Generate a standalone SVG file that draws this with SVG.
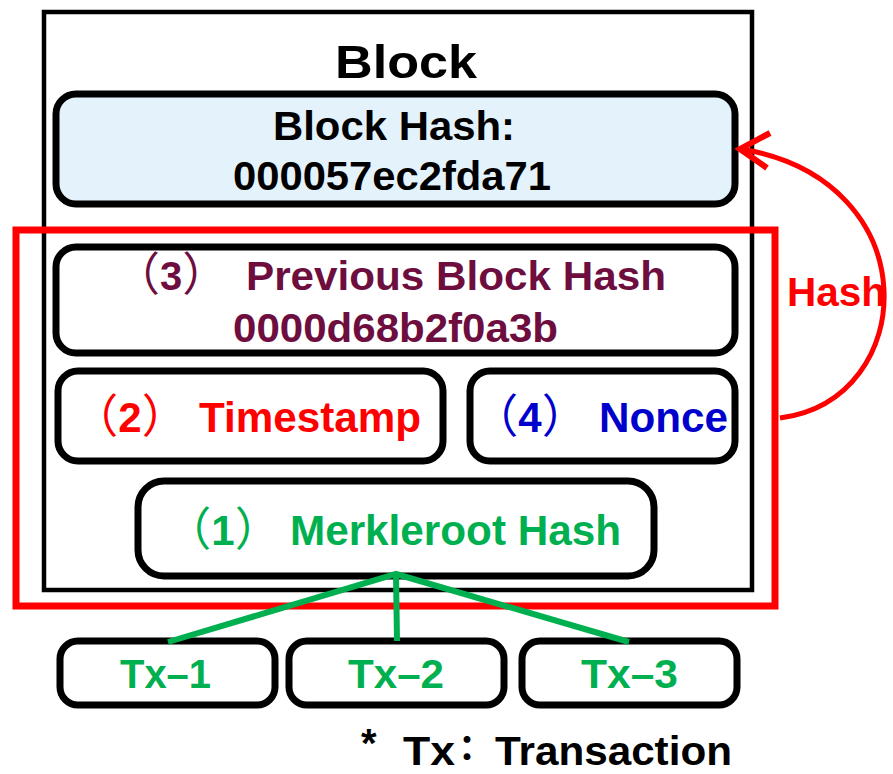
<svg xmlns="http://www.w3.org/2000/svg" width="893" height="774" viewBox="0 0 893 774">
<style>
text{font-family:"Liberation Sans",Arial,"Noto Sans CJK SC",sans-serif;font-weight:bold;}
.p{font-family:"Noto Sans CJK SC",sans-serif;font-weight:normal;font-size:46px;}
.box{fill:#fff;stroke:#000;stroke-width:7;}
.tx{fill:#00b050;font-size:40px;}
</style>
<rect width="893" height="774" fill="#fff"/>
<g id="block">
<rect x="44" y="12" width="708" height="578" fill="#fff" stroke="#000" stroke-width="4.5"/>
<text x="335" y="78" font-size="46" textLength="142" lengthAdjust="spacingAndGlyphs">Block</text>
</g>
<g id="block-hash">
<rect x="56" y="94" width="679" height="110" rx="20" fill="#e4f2fc" stroke="#000" stroke-width="7"/>
<text x="273" y="140" font-size="40" textLength="242" lengthAdjust="spacingAndGlyphs">Block Hash:</text>
<text x="233" y="190" font-size="40" textLength="318" lengthAdjust="spacingAndGlyphs">000057ec2fda71</text>
</g>
<g id="prev-hash">
<rect class="box" x="56" y="247" width="679" height="106" rx="20"/>
<text x="171" y="290" font-size="40" fill="#6d0e3f" text-anchor="middle"><tspan class="p">（</tspan>3<tspan class="p">）</tspan></text>
<text x="246" y="290" font-size="40" fill="#6d0e3f" textLength="420" lengthAdjust="spacingAndGlyphs">Previous Block Hash</text>
<text x="233" y="342" font-size="40" fill="#6d0e3f" textLength="325" lengthAdjust="spacingAndGlyphs">0000d68b2f0a3b</text>
</g>
<g id="timestamp">
<rect class="box" x="58" y="371" width="385" height="90" rx="20"/>
<text x="130" y="432" font-size="42" fill="#ff0000" text-anchor="middle"><tspan class="p">（</tspan>2<tspan class="p">）</tspan></text>
<text x="199" y="432" font-size="42" fill="#ff0000" textLength="222" lengthAdjust="spacingAndGlyphs">Timestamp</text>
</g>
<g id="nonce">
<rect class="box" x="470" y="371" width="265" height="90" rx="20"/>
<text x="530" y="432" font-size="42" fill="#0000cc" text-anchor="middle"><tspan class="p">（</tspan>4<tspan class="p">）</tspan></text>
<text x="599" y="432" font-size="42" fill="#0000cc" textLength="129" lengthAdjust="spacingAndGlyphs">Nonce</text>
</g>
<g id="merkleroot">
<rect class="box" x="138" y="481" width="516" height="95" rx="26"/>
<text x="223" y="545" font-size="42" fill="#00b050" text-anchor="middle"><tspan class="p">（</tspan>1<tspan class="p">）</tspan></text>
<text x="290" y="545" font-size="42" fill="#00b050" textLength="331" lengthAdjust="spacingAndGlyphs">Merkleroot Hash</text>
</g>
<g id="hashed-region">
<rect x="16" y="230" width="759" height="376" fill="none" stroke="#ff0000" stroke-width="7"/>
</g>
<g id="tx1">
<rect class="box" x="60" y="641" width="215" height="64" rx="18"/>
<text class="tx" x="120" y="688" textLength="91" lengthAdjust="spacingAndGlyphs">Tx–1</text>
</g>
<g id="tx2">
<rect class="box" x="289" y="641" width="215" height="64" rx="18"/>
<text class="tx" x="348" y="688" textLength="96" lengthAdjust="spacingAndGlyphs">Tx–2</text>
</g>
<g id="tx3">
<rect class="box" x="522" y="641" width="215" height="64" rx="18"/>
<text class="tx" x="581" y="688" textLength="97" lengthAdjust="spacingAndGlyphs">Tx–3</text>
</g>
<g id="connectors" fill="none" stroke-linecap="butt">
<path d="M168 642 L396 574 L629 642 M396 574 L397 641" stroke="#00b050" stroke-width="6" stroke-linejoin="miter"/>
<path d="M780 418 C920 400 930 180 741 149" stroke="#ff0000" stroke-width="5"/>
<path d="M770 133 L740 149 L767 168" stroke="#ff0000" stroke-width="6" stroke-linejoin="miter"/>
<text x="787" y="306" font-size="40" fill="#ff0000" stroke="none" textLength="99" lengthAdjust="spacingAndGlyphs">Hash</text>
</g>
<g id="footnote">
<text x="361" y="757" font-size="40">*</text>
<text x="403" y="765" font-size="40" textLength="52" lengthAdjust="spacingAndGlyphs">Tx</text>
<text x="458" y="760" font-size="36" font-family="Noto Sans CJK SC,sans-serif">：</text>
<text x="495" y="765" font-size="40" textLength="237" lengthAdjust="spacingAndGlyphs">Transaction</text>
</g>
</svg>
